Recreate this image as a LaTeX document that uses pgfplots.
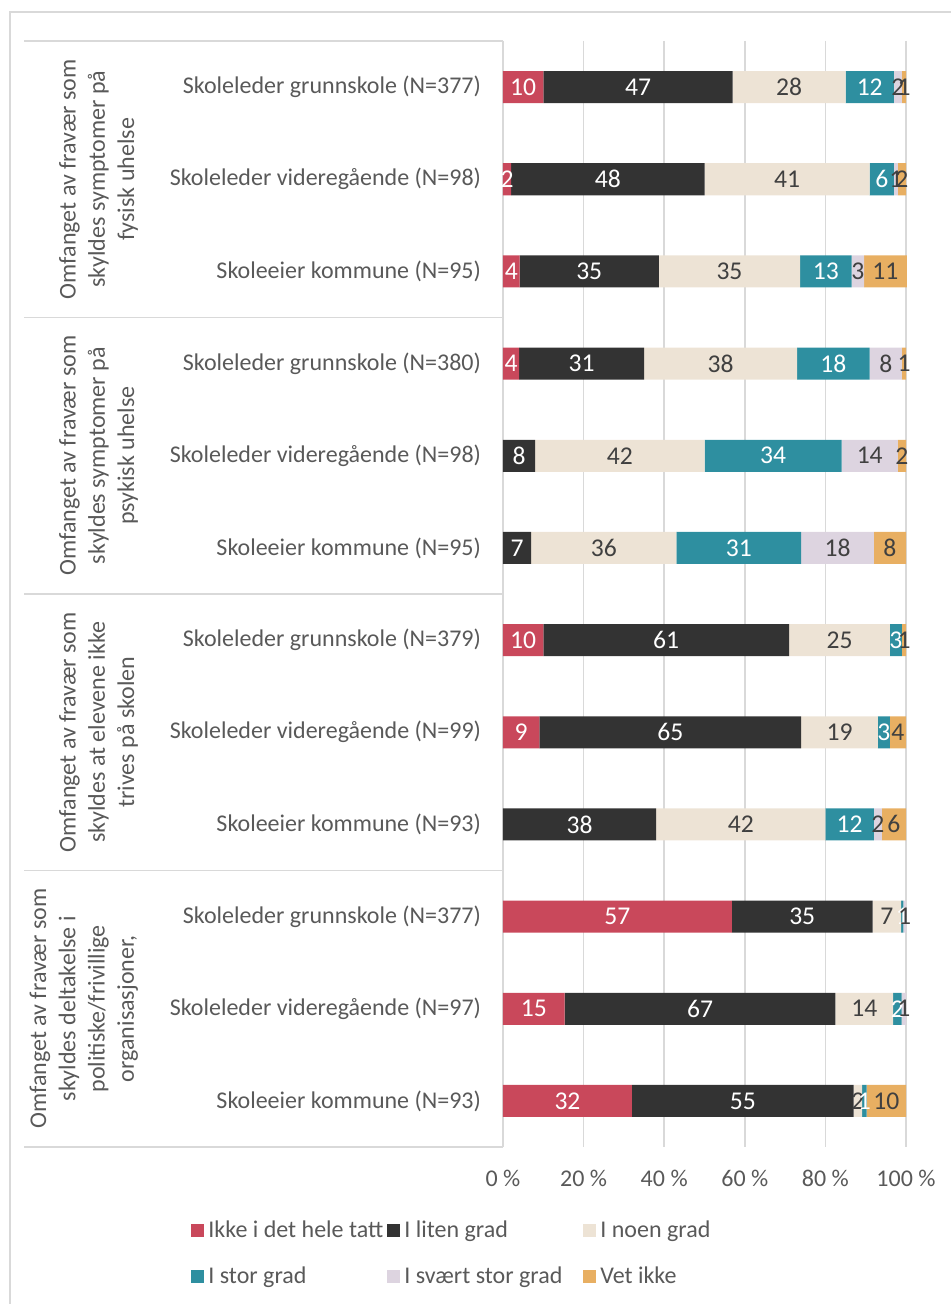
\documentclass[border=0pt]{standalone}
\usepackage{pgfplots}
\usepackage{pgfplotstable}
\pgfplotsset{compat=1.18}
\usepackage{fontspec}
\setmainfont{Carlito}
\definecolor{cred}{HTML}{C9485B}
\definecolor{cblack}{HTML}{333333}
\definecolor{cbeige}{HTML}{EDE3D5}
\definecolor{cteal}{HTML}{2E8FA0}
\definecolor{clav}{HTML}{DDD4E0}
\definecolor{corange}{HTML}{E8AF62}
\definecolor{txt}{HTML}{595959}
\definecolor{dlab}{HTML}{404040}
\definecolor{gridc}{HTML}{D9D9D9}

\pgfplotstableread{
row a b c d e f
1 10 47 28 12 2 1
2 2 48 41 6 1 2
3 4.1 34.6 35 12.8 3.1 10.6
4 4 31 38 18 8 1
5 0 8 42 34 14 2
6 0 7 36 31 18 8
7 10 61 25 3 0 1
8 9 65 19 3 0 4
9 0 38 42 12 2 6
10 56.8 34.9 7.1 0.55 0.65 0
11 15.3 67.2 14.3 2.1 1.1 0
12 32 55 2.1 1.1 0 9.8
}\data
\pgfplotstablecreatecol[create col/expr={\thisrow{a}/2}]{ma}\data
\pgfplotstablecreatecol[create col/expr={\thisrow{a}+\thisrow{b}/2}]{mb}\data
\pgfplotstablecreatecol[create col/expr={\thisrow{a}+\thisrow{b}+\thisrow{c}/2}]{mc}\data
\pgfplotstablecreatecol[create col/expr={\thisrow{a}+\thisrow{b}+\thisrow{c}+\thisrow{d}/2}]{md}\data
\pgfplotstablecreatecol[create col/expr={\thisrow{a}+\thisrow{b}+\thisrow{c}+\thisrow{d}+\thisrow{e}/2}]{me}\data
\pgfplotstablecreatecol[create col/expr={\thisrow{a}+\thisrow{b}+\thisrow{c}+\thisrow{d}+\thisrow{e}+\thisrow{f}/2}]{mf}\data

\newcommand{\fs}{\fontsize{12}{14.6}\selectfont}
\newcommand{\fl}{\fontsize{12.8}{15}\selectfont}

\begin{document}
\begin{tikzpicture}
\useasboundingbox (-251.5pt,-78.5pt) rectangle (223.5pt,573.5pt);
\draw[gridc, line width=0.8pt] (-246.5pt,-120pt) rectangle (300pt,567.5pt);
\begin{axis}[
  at={(0,0)}, anchor=south west, scale only axis,
  width=201.5pt, height=553pt,
  xbar stacked, bar width=16pt,
  xmin=0, xmax=100, ymin=0.5, ymax=12.5, y dir=reverse,
  clip=false,
  axis line style={draw=none},
  major tick length=0pt,
  xtick={0,20,40,60,80,100},
  xticklabels={0 \%,20 \%,40 \%,60 \%,80 \%,100 \%},
  xmajorgrids, grid style={gridc, line width=0.8pt},
  xticklabel style={font=\fs, text=txt, yshift=-8pt},
  ytick={1,...,12},
  yticklabels={Skoleleder grunnskole (N=377),Skoleleder videregående (N=98),Skoleeier kommune (N=95),
    Skoleleder grunnskole (N=380),Skoleleder videregående (N=98),Skoleeier kommune (N=95),
    Skoleleder grunnskole (N=379),Skoleleder videregående (N=99),Skoleeier kommune (N=93),
    Skoleleder grunnskole (N=377),Skoleleder videregående (N=97),Skoleeier kommune (N=93)},
  yticklabel style={font=\fs, text=txt, anchor=east, xshift=-7.5pt},
  legend columns=3,
  legend cell align=left,
  legend image code/.code={\fill[#1] (0pt,-3.25pt) rectangle (6.5pt,3.25pt);},
  legend style={draw=none, fill=none, inner sep=0pt, font=\fs, text=txt,
    at={(-0.7742,-0.05425)}, anchor=north west,
    nodes={minimum height=23pt, inner ysep=0pt}},
]
\addplot[fill=cred, draw=none] table[x=a, y=row]{\data};
\addlegendentry{\makebox[87.5pt][l]{Ikke i det hele tatt}}
\addplot[fill=cblack, draw=none] table[x=b, y=row]{\data};
\addlegendentry{\makebox[87.5pt][l]{I liten grad}}
\addplot[fill=cbeige, draw=none] table[x=c, y=row]{\data};
\addlegendentry{\makebox[87.5pt][l]{I noen grad}}
\addplot[fill=cteal, draw=none] table[x=d, y=row]{\data};
\addlegendentry{\makebox[87.5pt][l]{I stor grad}}
\addplot[fill=clav, draw=none] table[x=e, y=row]{\data};
\addlegendentry{\makebox[87.5pt][l]{I svært stor grad}}
\addplot[fill=corange, draw=none] table[x=f, y=row]{\data};
\addlegendentry{\makebox[87.5pt][l]{Vet ikke}}

\draw[gridc, line width=0.8pt] (axis cs:0,0.5) -- ++(-239.5pt,0pt);
\draw[gridc, line width=0.8pt] (axis cs:0,3.5) -- ++(-239.5pt,0pt);
\draw[gridc, line width=0.8pt] (axis cs:0,6.5) -- ++(-239.5pt,0pt);
\draw[gridc, line width=0.8pt] (axis cs:0,9.5) -- ++(-239.5pt,0pt);
\draw[gridc, line width=0.8pt] (axis cs:0,12.5) -- ++(-239.5pt,0pt);

\node[rotate=90, anchor=south, align=center, font=\fs, text=txt] at ([xshift=-179pt]axis cs:0,2)
  {Omfanget av fravær som\\skyldes symptomer på\\fysisk uhelse};
\node[rotate=90, anchor=south, align=center, font=\fs, text=txt] at ([xshift=-179pt]axis cs:0,5)
  {Omfanget av fravær som\\skyldes symptomer på\\psykisk uhelse};
\node[rotate=90, anchor=south, align=center, font=\fs, text=txt] at ([xshift=-179pt]axis cs:0,8)
  {Omfanget av fravær som\\skyldes at elevene ikke\\trives på skolen};
\node[rotate=90, anchor=south, align=center, font=\fs, text=txt] at ([xshift=-179pt]axis cs:0,11)
  {Omfanget av fravær som\\skyldes deltakelse i\\politiske/frivillige\\organisasjoner,};
\end{axis}

\begin{axis}[
  at={(0,0)}, anchor=south west, scale only axis,
  width=201.5pt, height=553pt,
  xmin=0, xmax=100, ymin=0.5, ymax=12.5, y dir=reverse,
  hide axis, clip=false,
  point meta=explicit symbolic,
  nodes near coords={\ifdim\pgfplotspointmeta pt<0.3pt\else\pgfmathprintnumber[fixed,precision=0,assume math mode=true]{\pgfplotspointmeta}\fi},
  nodes near coords style={anchor=center, font=\fl},
  every axis plot/.append style={only marks, mark=*, mark size=0pt, mark options={draw=none, fill=none}},
]
\addplot[nodes near coords style={text=white}] table[x=ma, y=row, meta=a]{\data};
\addplot[nodes near coords style={text=white}] table[x=mb, y=row, meta=b]{\data};
\addplot[nodes near coords style={text=dlab}] table[x=mc, y=row, meta=c]{\data};
\addplot[nodes near coords style={text=white}] table[x=md, y=row, meta=d]{\data};
\addplot[nodes near coords style={text=dlab}] table[x=me, y=row, meta=e]{\data};
\addplot[nodes near coords style={text=dlab}] table[x=mf, y=row, meta=f]{\data};
\end{axis}
\end{tikzpicture}
\end{document}
